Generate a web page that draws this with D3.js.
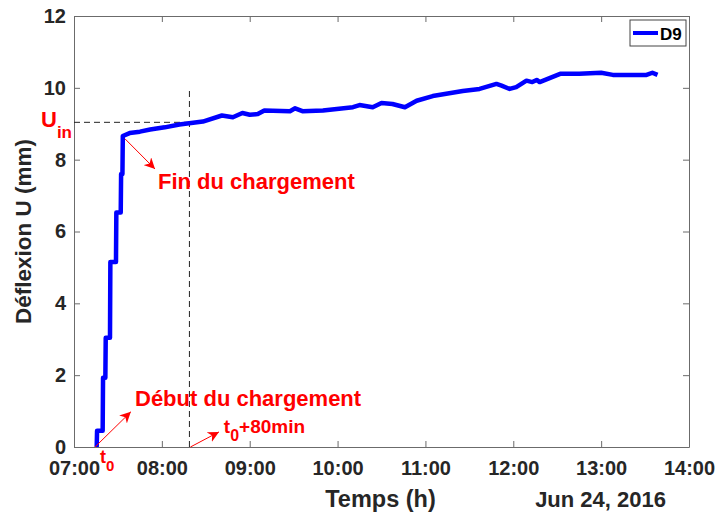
<!DOCTYPE html>
<html>
<head>
<meta charset="utf-8">
<script src="https://cdn.jsdelivr.net/npm/d3@7"></script>
<style>
  body { margin: 0; background: #fff; }
  svg text { font-family: "Liberation Sans", Arial, sans-serif; font-weight: bold; }
</style>
</head>
<body>
<div class="chart"></div>
<script>
// data (Jun 24, 2016)
var times = ["07:15:30","07:15:45","07:19:35","07:19:50","07:21:25","07:21:40","07:24:35","07:24:50",
    "07:28:40","07:28:55","07:31:55","07:32:10","07:33:05","07:33:20","07:38:00","07:45:00","07:52:00",
    "08:02:00","08:12:00","08:28:00","08:41:00","08:48:30","08:55:00","09:00:00","09:05:30","09:10:00",
    "09:27:30","09:31:00","09:36:00","09:50:00","10:10:30","10:15:00","10:24:00","10:30:00","10:37:30",
    "10:46:00","10:54:00","11:05:00","11:25:30","11:37:00","11:48:30","11:52:00","11:57:30","12:02:00",
    "12:09:00","12:13:00","12:16:00","12:18:00","12:32:00","12:45:00","13:00:00","13:08:00","13:31:00",
    "13:35:00","13:38:30"];
var deflexion = [0,0.45,0.45,1.93,1.93,3.04,3.04,5.15,5.15,6.53,6.53,7.6,7.6,8.66,8.74,8.78,8.84,
    8.90,8.98,9.06,9.23,9.18,9.30,9.25,9.27,9.37,9.35,9.43,9.35,9.37,9.46,9.52,9.46,9.58,9.55,9.46,
    9.64,9.77,9.91,9.97,10.11,10.06,9.97,10.02,10.20,10.16,10.22,10.16,10.39,10.39,10.42,10.36,10.36,
    10.42,10.36];
var yTicks = [0, 2, 4, 6, 8, 10, 12];
var xStart = "07:00:00", xEnd = "14:00:00";
var seriesName = "D9";
var dateLabel = "Jun 24, 2016";

// t0 + 80 min reference and U_in
var markTime = "08:18:50";
var uIn = 9.04;
var markEndTime = "08:30:00";

(function() {
    var day = "2016-06-24 ";
    var parse = d3.timeParse("%Y-%m-%d %H:%M:%S");
    var T = function(s) { return parse(day + s); };

    var W = 718, H = 514;
    var mLeft = 74, mRight = 689, mTop = 16, mBottom = 447;

    var svg = d3.select('.chart').append('svg')
        .attr('width', W)
        .attr('height', H);

    var x = d3.scaleTime().domain([T(xStart), T(xEnd)]).range([mLeft, mRight]);
    var y = d3.scaleLinear().domain([0, 12]).range([mBottom, mTop]);

    var axisColor = '#6b6b6b';
    var textColor = '#262626';

    // axes (ticks inside, mirrored like a matlab box)
    var xAxis = d3.axisBottom(x).ticks(d3.timeHour.every(1)).tickFormat(d3.timeFormat('%H:%M'))
        .tickSizeInner(-6).tickSizeOuter(0);
    var yAxis = d3.axisLeft(y).tickValues(yTicks).tickSizeInner(-6).tickSizeOuter(0).tickPadding(8);

    var gx = svg.append('g').attr('transform', 'translate(0,' + mBottom + ')').call(xAxis);
    var gy = svg.append('g').attr('transform', 'translate(' + mLeft + ',0)').call(yAxis);
    var gxt = svg.append('g').attr('transform', 'translate(0,' + mTop + ')')
        .call(d3.axisTop(x).ticks(d3.timeHour.every(1)).tickSizeInner(-6).tickSizeOuter(0).tickFormat(''));
    var gyr = svg.append('g').attr('transform', 'translate(' + mRight + ',0)')
        .call(d3.axisRight(y).tickValues(yTicks).tickSizeInner(-6).tickSizeOuter(0).tickFormat(''));

    [gx, gy, gxt, gyr].forEach(function(g) {
        g.selectAll('path').attr('stroke', axisColor).attr('stroke-width', 1);
        g.selectAll('line').attr('stroke', axisColor).attr('stroke-width', 1);
        g.selectAll('text').attr('fill', textColor).style('font-size', '20px');
    });
    gx.selectAll('text').attr('dy', '0.71em').attr('y', 14);

    // axis labels
    svg.append('text').attr('x', (mLeft + mRight) / 2 - 1).attr('y', 507)
        .attr('text-anchor', 'middle').attr('fill', textColor).style('font-size', '23.5px')
        .text('Temps (h)');
    svg.append('text').attr('x', 666).attr('y', 507)
        .attr('text-anchor', 'end').attr('fill', textColor).style('font-size', '22px')
        .text(dateLabel);
    svg.append('text')
        .attr('transform', 'translate(31,' + ((mTop + mBottom) / 2) + ') rotate(-90)')
        .attr('text-anchor', 'middle').attr('fill', textColor).style('font-size', '22.5px')
        .text('Déflexion U (mm)');

    // dashed reference lines
    svg.append('line')
        .attr('x1', x(T(xStart))).attr('x2', x(T(markEndTime)))
        .attr('y1', y(uIn)).attr('y2', y(uIn))
        .attr('stroke', '#222').attr('stroke-width', 1).attr('stroke-dasharray', '6,4');
    svg.append('line')
        .attr('x1', x(T(markTime))).attr('x2', x(T(markTime)))
        .attr('y1', y(0)).attr('y2', y(10))
        .attr('stroke', '#222').attr('stroke-width', 1).attr('stroke-dasharray', '6,4');

    // data line
    var data = times.map(function(t, i) { return {t: T(t), v: deflexion[i]}; });
    var line = d3.line().x(function(d) { return x(d.t); }).y(function(d) { return y(d.v); });
    svg.append('path').datum(data)
        .attr('d', line)
        .attr('fill', 'none')
        .attr('stroke', '#0000ff')
        .attr('stroke-width', 4.5)
        .attr('stroke-linejoin', 'round');

    // legend
    var lg = svg.append('g');
    lg.append('rect').attr('x', 630).attr('y', 20).attr('width', 56).attr('height', 26)
        .attr('fill', '#fff').attr('stroke', '#444').attr('stroke-width', 1);
    lg.append('line').attr('x1', 633).attr('x2', 658).attr('y1', 33).attr('y2', 33)
        .attr('stroke', '#0000ff').attr('stroke-width', 4);
    lg.append('text').attr('x', 660).attr('y', 39.5).attr('fill', '#000').style('font-size', '17px')
        .text(seriesName);

    // annotations
    var red = '#ff0000';
    svg.append('defs').append('marker')
        .attr('id', 'arrow').attr('viewBox', '0 0 10 10').attr('refX', 10).attr('refY', 5)
        .attr('markerWidth', 11).attr('markerHeight', 11).attr('markerUnits', 'userSpaceOnUse')
        .attr('orient', 'auto')
        .append('path').attr('d', 'M0,0 L10,5 L0,10 L3,5 Z').attr('fill', red);

    var arrows = [
        {from: ["07:34:50", 8.58], to: ["07:55:20", 7.74]},
        {from: ["07:14:20", 0], to: ["07:38:50", 0.98]},
        {from: ["08:19:30", 0], to: ["08:39:00", 0.42]}
    ];
    arrows.forEach(function(a) {
        svg.append('line')
            .attr('x1', x(T(a.from[0]))).attr('y1', y(a.from[1]))
            .attr('x2', x(T(a.to[0]))).attr('y2', y(a.to[1]))
            .attr('stroke', red).attr('stroke-width', 1)
            .attr('marker-end', 'url(#arrow)');
    });

    svg.append('text').attr('x', x(T("07:57:20"))).attr('y', y(7.18))
        .attr('fill', red).style('font-size', '22px').text('Fin du chargement');
    svg.append('text').attr('x', x(T("07:41:40"))).attr('y', y(1.13))
        .attr('fill', red).style('font-size', '22px').text('Début du chargement');

    var t80 = svg.append('text').attr('x', x(T("08:42:20"))).attr('y', y(0.39))
        .attr('fill', red).style('font-size', '19px');
    t80.append('tspan').text('t');
    t80.append('tspan').attr('dy', 8).style('font-size', '16px').text('0');
    t80.append('tspan').attr('dy', -8).text('+80min');

    var uin = svg.append('text').attr('x', 41).attr('y', y(uIn) + 5)
        .attr('fill', red).style('font-size', '22px');
    uin.append('tspan').text('U');
    uin.append('tspan').attr('dy', 11).style('font-size', '17px').text('in');

    var t0 = svg.append('text').attr('x', 100).attr('y', 463)
        .attr('fill', red).style('font-size', '18px');
    t0.append('tspan').text('t');
    t0.append('tspan').attr('dy', 8).style('font-size', '15px').text('0');
})();
</script>
</body>
</html>
